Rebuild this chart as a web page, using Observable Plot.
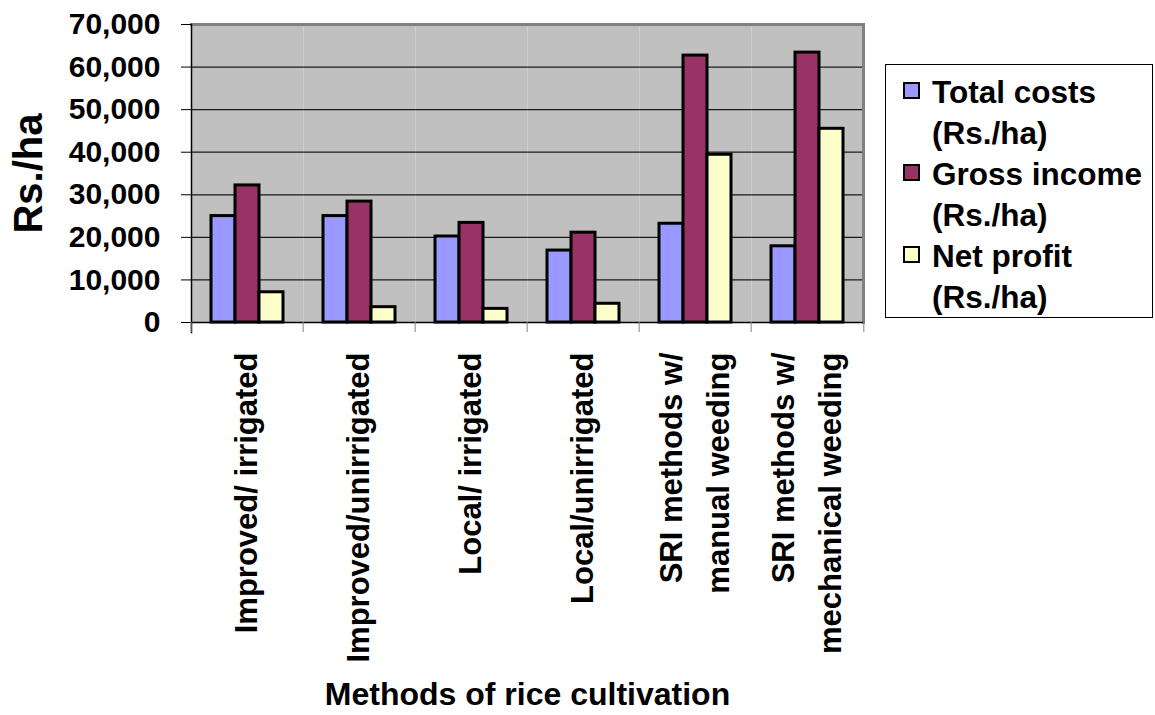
<!DOCTYPE html>
<html><head><meta charset="utf-8">
<script src="https://cdn.jsdelivr.net/npm/d3@7"></script>
<script src="https://cdn.jsdelivr.net/npm/@observablehq/plot@0.6"></script>
<style>
body{margin:0;background:#fff;font-family:"Liberation Sans",Arial,sans-serif;}
#wrap{position:relative;width:1155px;height:715px;overflow:hidden;}
#legend{position:absolute;left:885px;top:64px;width:268px;height:254px;border:1px solid #000;box-sizing:border-box;padding-top:7px;background:#fff;}
.item{position:relative;padding-left:46px;font-size:31.5px;font-weight:bold;line-height:41px;white-space:pre-line;color:#000;}
.sw{position:absolute;left:17px;top:10px;width:17px;height:17px;border:2px solid #000;box-sizing:border-box;}
</style></head>
<body><div id="wrap"><div id="chart"></div><div id="legend"></div></div>
<script>
const categories = ["Improved/ irrigated","Improved/unirrigated","Local/ irrigated","Local/unirrigated","SRI methods w/\nmanual weeding","SRI methods w/\nmechanical weeding"];
const seriesNames = ["Total costs (Rs./ha)","Gross income (Rs./ha)","Net profit (Rs./ha)"];
const legendLabels = ["Total costs\n(Rs./ha)","Gross income\n(Rs./ha)","Net profit\n(Rs./ha)"];
const totalCosts  = [25000, 25000, 20200, 16900, 23200, 17900];
const grossIncome = [32200, 28400, 23400, 21100, 62700, 63400];
const netProfit   = [7100, 3600, 3200, 4400, 39400, 45500];
const seriesColors = ["#9999FF","#993366","#FFFFCC"];
const yTicks = [0,10000,20000,30000,40000,50000,60000,70000];
const yLabel = "Rs./ha";
const xLabel = "Methods of rice cultivation";

const seriesValues = [totalCosts, grossIncome, netProfit];
const rows = categories.flatMap((c, i) => seriesNames.map((s, k) => ({category: c, series: s, value: seriesValues[k][i]})));

const W = 1155, H = 715, mL = 189, mR = 290, mT = 24, mB = 393;
const halfBand = (W - mL - mR) / categories.length / 2;
const font = "'Liberation Sans', Arial, sans-serif";

const chart = Plot.plot({
  width: W, height: H,
  marginLeft: mL, marginRight: mR, marginTop: mT, marginBottom: mB,
  style: {fontFamily: font, fontWeight: "bold", color: "#000", background: "transparent", overflow: "visible"},
  fx: {domain: categories, padding: 0},
  x: {domain: seriesNames, paddingInner: 0, paddingOuter: 0.76, axis: null},
  y: {domain: [0, 70000]},
  color: {domain: seriesNames, range: seriesColors},
  marks: [
    Plot.frame({fill: "#C0C0C0", stroke: null}),
    Plot.ruleY(yTicks.slice(1, -1), {stroke: "#1a1a1a", strokeWidth: 1.2}),
    Plot.frame({anchor: "top", stroke: "#808080", strokeWidth: 3}),
    Plot.frame({anchor: "right", facetAnchor: "right", stroke: "#808080", strokeWidth: 3}),
    Plot.barY(rows, {fx: "category", x: "series", y: "value", fill: "series", stroke: "#000", strokeWidth: 3}),
    Plot.ruleY([0], {stroke: "#000", strokeWidth: 1.5}),
    Plot.frame({anchor: "left", facetAnchor: "left", stroke: "#000", strokeWidth: 1.5, insetBottom: -10}),
    Plot.axisY({ticks: yTicks, tickFormat: d3.format(","), tickSize: 10, tickPadding: 21, fontSize: 30, stroke: "#000", label: null}),
    Plot.axisY({ticks: [], label: yLabel, labelAnchor: "center", labelOffset: 178, labelArrow: "none", fontSize: 40}),
    Plot.axisFx({anchor: "bottom", tickSize: 0, tickPadding: 30, tickRotate: -90, fontSize: 31, lineHeight: 1.5, dx: -5, label: null}),
    Plot.axisFx({anchor: "bottom", tickSize: 10, tickFormat: () => "", dx: -halfBand, stroke: "#808080", label: null}),
    Plot.axisFx({anchor: "bottom", ticks: [categories[categories.length - 1]], tickSize: 10, tickFormat: () => "", dx: halfBand, stroke: "#808080", label: null}),
    Plot.axisFx({anchor: "bottom", ticks: [], label: xLabel, labelAnchor: "center", labelOffset: 382, labelArrow: "none", fontSize: 32})
  ]
});
document.getElementById("chart").appendChild(chart);

const legend = document.getElementById("legend");
legendLabels.forEach((t, k) => {
  const item = document.createElement("div");
  item.className = "item";
  const sw = document.createElement("span");
  sw.className = "sw";
  sw.style.background = seriesColors[k];
  item.appendChild(sw);
  item.appendChild(document.createTextNode(t));
  legend.appendChild(item);
});
</script>
</body></html>
